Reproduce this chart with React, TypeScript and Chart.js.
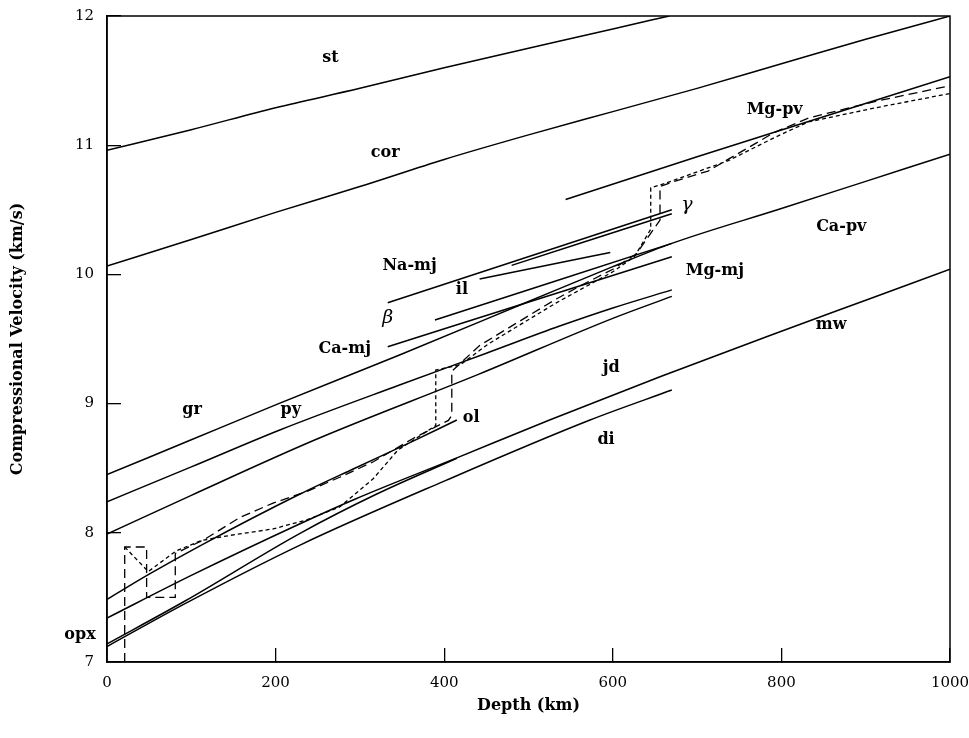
import React, { useEffect, useRef } from "react";
import { Chart, registerables } from "chart.js";

Chart.register(...registerables);

// ---- solid mineral curves (depth km, Vp km/s) ----
const stDepth = [0, 100, 200, 300, 400, 500, 600, 667];
const stVp = [10.96, 11.12, 11.29, 11.44, 11.6, 11.75, 11.9, 12.0];

const corDepth = [0, 100, 200, 300, 400, 500, 600, 700, 800, 900, 1000];
const corVp = [10.065, 10.27, 10.48, 10.68, 10.89, 11.08, 11.26, 11.44, 11.63, 11.82, 12.0];

const mgPvDepth = [544, 700, 850, 1000];
const mgPvVp = [10.58, 10.91, 11.22, 11.53];

const grCaPvDepth = [0, 100, 200, 347, 500, 600, 670, 800, 900, 1000];
const grCaPvVp = [8.45, 8.72, 8.99, 9.376, 9.79, 10.06, 10.24, 10.51, 10.72, 10.93];

const pyDepth = [0, 100, 205, 347, 450, 537, 600, 670];
const pyVp = [8.24, 8.51, 8.796, 9.144, 9.39, 9.6, 9.74, 9.88];

const jdDepth = [0, 100, 247, 442, 600, 670];
const jdVp = [7.99, 8.29, 8.72, 9.23, 9.66, 9.83];

const olDepth = [0, 50, 112, 229, 294, 360, 415];
const olVp = [7.485, 7.68, 7.905, 8.3, 8.5, 8.7, 8.873];

const mwDepth = [0, 100, 229, 294, 415, 525, 656, 800, 900, 1000];
const mwVp = [7.34, 7.67, 8.07, 8.26, 8.58, 8.873, 9.208, 9.56, 9.8, 10.04];

const opxDepth = [0, 92, 229, 320, 415];
const opxVp = [7.14, 7.47, 7.996, 8.3, 8.577];

const diDepth = [0, 92, 229, 400, 573, 670];
const diVp = [7.12, 7.45, 7.905, 8.4, 8.873, 9.105];

const naMjDepth = [333, 670];
const naMjVp = [9.78, 10.5];

const gammaDepth = [480, 670];
const gammaVp = [10.07, 10.47];

const ilDepth = [442, 597];
const ilVp = [9.965, 10.17];

const betaDepth = [389, 670];
const betaVp = [9.647, 10.24];

const caMjDepth = [333, 670];
const caMjVp = [9.44, 10.137];

// ---- model profiles ----
const modelADepth = [21, 21, 47, 47, 81, 81, 116, 158, 197, 237, 276, 316, 363, 405, 409, 409, 442, 533, 561, 600, 628, 656, 656, 673, 713, 792, 832, 912, 1000];
const modelAVp = [7.0, 7.89, 7.89, 7.5, 7.5, 7.84, 7.95, 8.12, 8.23, 8.32, 8.43, 8.55, 8.73, 8.87, 8.91, 9.25, 9.45, 9.81, 9.91, 10.04, 10.16, 10.42, 10.68, 10.72, 10.8, 11.1, 11.21, 11.34, 11.46];

const modelBDepth = [21, 49, 82, 112, 146, 197, 237, 276, 316, 345, 390, 390, 419, 452, 533, 600, 626, 645, 645, 660, 737, 792, 832, 912, 1000];
const modelBVp = [7.89, 7.7, 7.86, 7.94, 7.98, 8.03, 8.1, 8.2, 8.42, 8.64, 8.83, 9.26, 9.3, 9.46, 9.78, 10.02, 10.14, 10.35, 10.67, 10.7, 10.88, 11.06, 11.18, 11.29, 11.4];

// ---- curve labels ----
const labelTexts = ["st", "cor", "Mg-pv", "γ", "Ca-pv", "Na-mj", "il", "Mg-mj", "β", "Ca-mj", "jd", "mw", "gr", "py", "ol", "di", "opx"];
const labelDepths = [265, 330, 792, 688, 871, 359, 421, 721, 333, 282, 598, 859, 101, 218, 432, 592, -32];
const labelVps = [11.68, 10.94, 11.27, 10.54, 10.37, 10.07, 9.88, 10.03, 9.66, 9.42, 9.28, 9.61, 8.95, 8.95, 8.89, 8.72, 7.21];

const xTickStep = 200;
const yTickStep = 1;

const FONT = '"DejaVu Serif", "Liberation Serif", serif';

function zip(d: number[], v: number[]) {
  return d.map((x, i) => ({ x, y: v[i] }));
}

const solidCurves: [number[], number[]][] = [
  [stDepth, stVp],
  [corDepth, corVp],
  [mgPvDepth, mgPvVp],
  [grCaPvDepth, grCaPvVp],
  [pyDepth, pyVp],
  [jdDepth, jdVp],
  [olDepth, olVp],
  [mwDepth, mwVp],
  [opxDepth, opxVp],
  [diDepth, diVp],
  [naMjDepth, naMjVp],
  [gammaDepth, gammaVp],
  [ilDepth, ilVp],
  [betaDepth, betaVp],
  [caMjDepth, caMjVp],
];

const framePlugin = {
  id: "frameAndLabels",
  afterDraw(chart: any) {
    const { ctx, chartArea, scales } = chart;
    const { left, right, top, bottom } = chartArea;
    ctx.save();
    ctx.strokeStyle = "#000";
    ctx.lineWidth = 1.5;
    ctx.strokeRect(left, top, right - left, bottom - top);
    ctx.fillStyle = "#000";
    ctx.textAlign = "center";
    ctx.textBaseline = "middle";
    labelTexts.forEach((t, i) => {
      const greek = t === "β" || t === "γ";
      ctx.font = greek ? `italic 19px ${FONT}` : `bold 16px ${FONT}`;
      ctx.fillText(t, scales.x.getPixelForValue(labelDepths[i]), scales.y.getPixelForValue(labelVps[i]));
    });
    ctx.restore();
  },
};

export default function App() {
  const ref = useRef<HTMLCanvasElement | null>(null);
  useEffect(() => {
    if (!ref.current) return;
    const datasets: any[] = solidCurves.map(([d, v]) => ({
      data: zip(d, v),
      borderColor: "#000",
      borderWidth: 1.5,
      pointRadius: 0,
      fill: false,
      cubicInterpolationMode: "monotone",
    }));
    datasets.push({
      data: zip(modelADepth, modelAVp),
      borderColor: "#000",
      borderWidth: 1.3,
      borderDash: [9, 5],
      pointRadius: 0,
      fill: false,
      tension: 0,
    });
    datasets.push({
      data: zip(modelBDepth, modelBVp),
      borderColor: "#000",
      borderWidth: 1.3,
      borderDash: [4, 3],
      pointRadius: 0,
      fill: false,
      tension: 0,
    });
    const chart = new Chart(ref.current, {
      type: "line",
      data: { datasets },
      plugins: [framePlugin],
      options: {
        animation: false,
        responsive: false,
        devicePixelRatio: 1,
        parsing: false as any,
        layout: { padding: { top: 16, right: 19, left: 0, bottom: 0 } },
        plugins: { legend: { display: false }, tooltip: { enabled: false } },
        scales: {
          x: {
            type: "linear",
            min: 0,
            max: 1000,
            ticks: {
              stepSize: xTickStep,
              color: "#000",
              font: { family: FONT, size: 15 },
              padding: 26,
              maxRotation: 0,
              autoSkip: false,
              callback: (v: any) => String(v),
            },
            grid: { display: true, drawOnChartArea: false, drawTicks: true, tickLength: -14, color: "#000", lineWidth: 1.3 },
            border: { display: true, color: "#000", width: 1.5 },
            title: {
              display: true,
              text: "Depth (km)",
              color: "#000",
              font: { family: FONT, size: 16, weight: "bold" },
              padding: { top: 0, bottom: 23 },
            },
            afterFit(s: any) {
              s.height = 76;
              s.paddingLeft = 0;
              s.paddingRight = 0;
            },
          },
          y: {
            type: "linear",
            min: 7,
            max: 12,
            ticks: {
              stepSize: yTickStep,
              color: "#000",
              font: { family: FONT, size: 15 },
              padding: 27,
              callback: (v: any) => String(v),
            },
            grid: { display: true, drawOnChartArea: false, drawTicks: true, tickLength: -14, color: "#000", lineWidth: 1.3 },
            border: { display: true, color: "#000", width: 1.5 },
            title: {
              display: true,
              text: "Compressional Velocity (km/s)",
              color: "#000",
              font: { family: FONT, size: 16, weight: "bold" },
              padding: { top: 8, bottom: 0 },
            },
            afterFit(s: any) {
              s.width = 107;
              s.paddingTop = 0;
              s.paddingBottom = 0;
            },
          },
        },
      },
    });
    return () => chart.destroy();
  }, []);
  return (
    <div style={{ position: "absolute", left: 0, top: 0, width: 969, height: 738, background: "#fff" }}>
      <canvas ref={ref} width={969} height={738} style={{ display: "block" }} />
    </div>
  );
}
